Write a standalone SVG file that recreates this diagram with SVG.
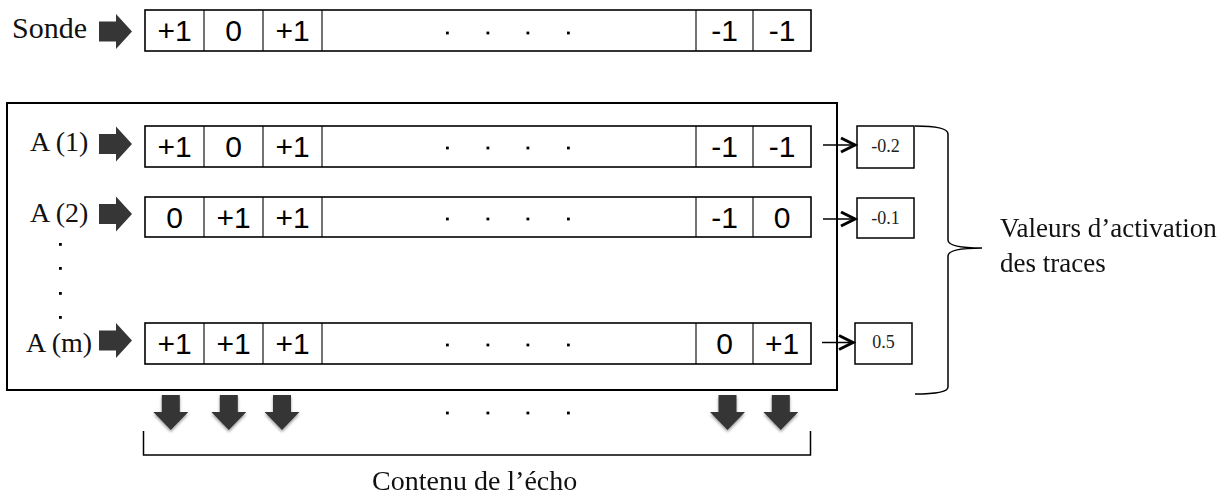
<svg xmlns="http://www.w3.org/2000/svg" width="1230" height="498" viewBox="0 0 1230 498">
<defs>
<style>
.bg{fill:#fff}
.row{fill:#fff;stroke:#000;stroke-width:1.6}
.div{stroke:#000;stroke-width:1.1}
.num{font-family:"Liberation Sans",Arial,sans-serif;font-size:30px;fill:#000;text-anchor:middle}
.lab{font-family:"Liberation Serif","Times New Roman",serif;font-size:28px;fill:#111}
.val{font-family:"Liberation Serif","Times New Roman",serif;font-size:18px;fill:#222;text-anchor:middle}
.blk{fill:#363636}
.dot{fill:#000}
.ln{fill:none;stroke:#000;stroke-width:1.5}
.chev{fill:none;stroke:#000;stroke-width:3;stroke-linejoin:miter}
.vbox{fill:#fff;stroke:#000;stroke-width:1.5}
</style>
<filter id="sh" x="-30%" y="-30%" width="160%" height="160%">
<feGaussianBlur in="SourceAlpha" stdDeviation="1.5"/>
<feOffset dx="0" dy="2" result="b"/>
<feComponentTransfer><feFuncA type="linear" slope="0.4"/></feComponentTransfer>
<feMerge><feMergeNode/><feMergeNode in="SourceGraphic"/></feMerge>
</filter>
<path id="ra" d="M0,-10 L17,-10 L17,-17.5 L33,0 L17,17.5 L17,10 L0,10 Z"/>
<path id="da" d="M-9,0 L9,0 L9,17 L17.5,17 L0,35 L-17.5,17 L-9,17 Z"/>
<g id="dots4">
<rect x="446" y="-1.4" width="2.8" height="2.8"/>
<rect x="486.5" y="-1.4" width="2.8" height="2.8"/>
<rect x="526.5" y="-1.4" width="2.8" height="2.8"/>
<rect x="567" y="-1.4" width="2.8" height="2.8"/>
</g>
</defs>
<rect class="bg" x="0" y="0" width="1230" height="498"/>

<g id="probe">
<text class="lab" x="12" y="38" style="font-size:30px">Sonde</text>
<use href="#ra" class="blk" x="99" y="31.5"/>
<rect class="row" x="145" y="10" width="666" height="41"/>
<line class="div" x1="204" y1="10" x2="204" y2="51"/>
<line class="div" x1="263" y1="10" x2="263" y2="51"/>
<line class="div" x1="322" y1="10" x2="322" y2="51"/>
<line class="div" x1="696" y1="10" x2="696" y2="51"/>
<line class="div" x1="753" y1="10" x2="753" y2="51"/>
<text class="num" x="174.5" y="41">+1</text>
<text class="num" x="233.5" y="41">0</text>
<text class="num" x="292.5" y="41">+1</text>
<text class="num" x="724.5" y="41">-1</text>
<text class="num" x="782" y="41">-1</text>
<use href="#dots4" class="dot" x="0" y="33"/>
</g>

<g id="memory">
<rect x="7" y="103" width="830" height="287" fill="none" stroke="#000" stroke-width="2"/>
</g>

<g id="trace1">
<text class="lab" x="30" y="151">A (1)</text>
<use href="#ra" class="blk" x="99" y="144"/>
<rect class="row" x="145" y="126" width="666" height="41"/>
<line class="div" x1="204" y1="126" x2="204" y2="167"/>
<line class="div" x1="263" y1="126" x2="263" y2="167"/>
<line class="div" x1="322" y1="126" x2="322" y2="167"/>
<line class="div" x1="696" y1="126" x2="696" y2="167"/>
<line class="div" x1="753" y1="126" x2="753" y2="167"/>
<text class="num" x="174.5" y="157">+1</text>
<text class="num" x="233.5" y="157">0</text>
<text class="num" x="292.5" y="157">+1</text>
<text class="num" x="724.5" y="157">-1</text>
<text class="num" x="782" y="157">-1</text>
<use href="#dots4" class="dot" x="0" y="148"/>
</g>

<g id="trace2">
<text class="lab" x="30" y="222">A (2)</text>
<use href="#ra" class="blk" x="99" y="214"/>
<rect class="row" x="145" y="197" width="666" height="40"/>
<line class="div" x1="204" y1="197" x2="204" y2="237"/>
<line class="div" x1="263" y1="197" x2="263" y2="237"/>
<line class="div" x1="322" y1="197" x2="322" y2="237"/>
<line class="div" x1="696" y1="197" x2="696" y2="237"/>
<line class="div" x1="753" y1="197" x2="753" y2="237"/>
<text class="num" x="174.5" y="228">0</text>
<text class="num" x="233.5" y="228">+1</text>
<text class="num" x="292.5" y="228">+1</text>
<text class="num" x="724.5" y="228">-1</text>
<text class="num" x="782" y="228">0</text>
<use href="#dots4" class="dot" x="0" y="219"/>
</g>

<g id="vdots">
<rect class="dot" x="59" y="243" width="2.8" height="2.8"/>
<rect class="dot" x="59" y="267" width="2.8" height="2.8"/>
<rect class="dot" x="59" y="292" width="2.8" height="2.8"/>
<rect class="dot" x="59" y="316" width="2.8" height="2.8"/>
</g>

<g id="tracem">
<text class="lab" x="26" y="352">A (m)</text>
<use href="#ra" class="blk" x="99" y="340.5"/>
<rect class="row" x="145" y="323" width="666" height="41"/>
<line class="div" x1="204" y1="323" x2="204" y2="364"/>
<line class="div" x1="263" y1="323" x2="263" y2="364"/>
<line class="div" x1="322" y1="323" x2="322" y2="364"/>
<line class="div" x1="696" y1="323" x2="696" y2="364"/>
<line class="div" x1="753" y1="323" x2="753" y2="364"/>
<text class="num" x="174.5" y="354">+1</text>
<text class="num" x="233.5" y="354">+1</text>
<text class="num" x="292.5" y="354">+1</text>
<text class="num" x="724.5" y="354">0</text>
<text class="num" x="782" y="354">+1</text>
<use href="#dots4" class="dot" x="0" y="345"/>
</g>

<g id="act1">
<rect class="vbox" x="857" y="126" width="57" height="42"/>
<text class="val" x="885.5" y="152">-0.2</text>
</g>
<g id="act2">
<rect class="vbox" x="857" y="198" width="57" height="40"/>
<text class="val" x="885.5" y="224">-0.1</text>
</g>
<g id="actm">
<rect class="vbox" x="855" y="323" width="57" height="41"/>
<text class="val" x="883.5" y="348">0.5</text>
</g>

<g id="connectors">
<line class="ln" x1="823" y1="145" x2="855" y2="145"/>
<polyline class="chev" points="841,138 855,145 841,152"/>
<line class="ln" x1="823" y1="219" x2="855" y2="219"/>
<polyline class="chev" points="841,212 855,219 841,226"/>
<line class="ln" x1="822" y1="342.5" x2="853" y2="342.5"/>
<polyline class="chev" points="839,335.5 853,342.5 839,349.5"/>
<g filter="url(#sh)" class="blk">
<use href="#da" x="170.8" y="395"/>
<use href="#da" x="228.8" y="395"/>
<use href="#da" x="282" y="395"/>
<use href="#da" x="727.5" y="395"/>
<use href="#da" x="780.8" y="395"/>
</g>
<use href="#dots4" class="dot" x="0" y="413"/>
</g>

<g id="brace">
<path class="ln" d="M915,126 Q948,126 948,134 L948,240 Q948,248 982,248 Q948,248 948,256 L948,387 Q948,394 915,394"/>
<text class="lab" x="1000" y="237" style="font-size:27px">Valeurs d’activation</text>
<text class="lab" x="1000" y="272" style="font-size:27px">des traces</text>
</g>

<g id="echo">
<path class="ln" d="M143.5,431 L143.5,455 L810.5,455 L810.5,431"/>
<text class="lab" x="372" y="490" style="font-size:28px">Contenu de l’écho</text>
</g>
</svg>
